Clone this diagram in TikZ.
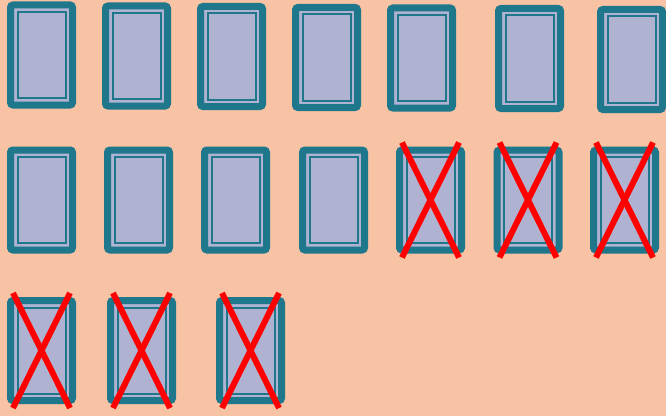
\documentclass[tikz,border=0pt]{standalone}
\usepackage{tikz}
\usetikzlibrary{positioning}
\definecolor{deckpeach}{RGB}{247,195,164}
\definecolor{deckteal}{RGB}{31,119,139}
\definecolor{decklav}{RGB}{175,178,209}
\definecolor{deckred}{RGB}{255,0,0}

\begin{document}
\begin{tikzpicture}[
  x=1pt, y=1pt,
  card/.style={draw=deckteal, line width=7pt, fill=decklav,
               rounded corners=2.5pt, minimum width=62pt, minimum height=100pt,
               inner sep=0pt, outer sep=0pt},
  frame/.style={draw=deckteal, line width=2pt},
  cross/.style={draw=deckred, line width=6pt}
]
\fill[deckpeach] (0,0) rectangle (666,416);
\useasboundingbox (0,0) rectangle (666,416);

% first row
\node[card] (c11) at (41.5,361)   {};
\node[card] (c12) at (136.5,360)  {};
\node[card] (c13) at (231.5,359.5){};
\node[card] (c14) at (326.5,358.5){};
\node[card] (c15) at (421.5,358)  {};
\node[card] (c16) at (529.5,357.5){};
\node[card] (c17) at (631.5,356.5){};
% second row
\node[card] (c21) at (41.5,216)  {};
\node[card] (c22) at (138.5,216) {};
\node[card] (c23) at (235.5,216) {};
\node[card] (c24) at (333.5,216) {};
\node[card] (c25) at (430.5,216) {};
\node[card] (c26) at (528,216)   {};
\node[card] (c27) at (624.5,216) {};
% third row
\node[card] (c31) at (41.5,65.5)  {};
\node[card] (c32) at (141.5,65.5) {};
\node[card] (c33) at (250.5,65.5) {};

\foreach \c in {c11,c12,c13,c14,c15,c16,c17,c21,c22,c23,c24,c25,c26,c27,c31,c32,c33}
  \draw[frame] ([shift={(7pt,-7pt)}]\c.north west) rectangle ([shift={(-7pt,7pt)}]\c.south east);

% crossed out
\foreach \c in {c25,c26,c27,c31,c32,c33} {
  \draw[cross] ([shift={(2.5pt,7.5pt)}]\c.north west) -- ([shift={(-2.5pt,-7.5pt)}]\c.south east);
  \draw[cross] ([shift={(-2.5pt,7.5pt)}]\c.north east) -- ([shift={(2.5pt,-7.5pt)}]\c.south west);
}
\end{tikzpicture}
\end{document}
